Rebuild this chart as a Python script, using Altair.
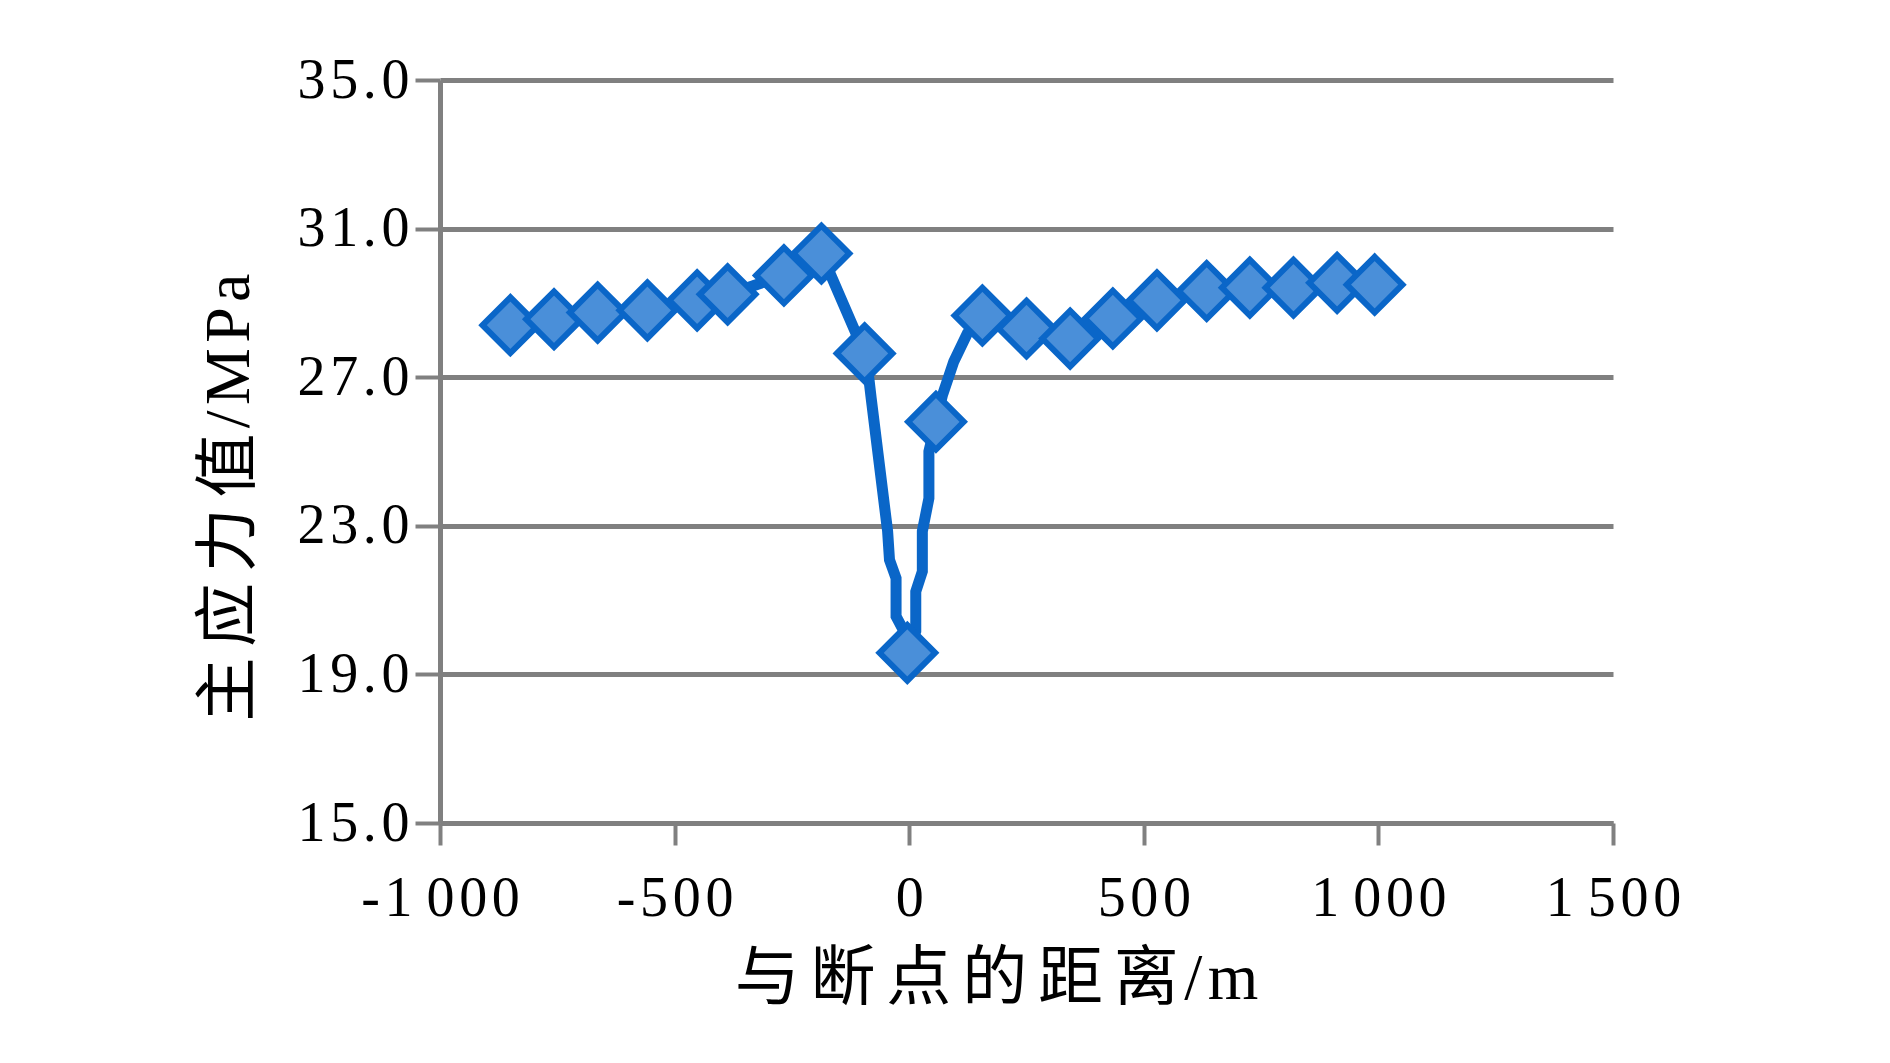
import altair as alt
import pandas as pd

# Marker points (distance from breakpoint, m ; principal stress, MPa)
marker_x = [-850, -757, -664, -558, -452, -387, -267, -187, -95, -4, 57, 156, 250, 343, 434, 528, 634, 726, 819, 912, 992]
marker_y = [28.40, 28.56, 28.74, 28.80, 29.07, 29.23, 29.74, 30.33, 27.64, 19.58, 25.80, 28.66, 28.31, 28.04, 28.58, 29.07, 29.32, 29.41, 29.41, 29.54, 29.49]

# Full polyline vertices (in drawing order)
path_x = [-850, -757, -664, -558, -452, -387, -267, -187, -95, -86, -81, -46, -42, -28, -28, -11, -4,
          14, 14, 28, 28, 42, 42, 57, 71, 95, 124, 156, 250, 343, 434, 528, 634, 726, 819, 912, 992]
path_y = [28.40, 28.56, 28.74, 28.80, 29.07, 29.23, 29.74, 30.33, 27.64, 26.97, 26.43, 22.85, 22.08, 21.59, 20.56, 20.16, 19.58,
          20.16, 21.23, 21.77, 22.85, 23.74, 25.00, 25.80, 26.52, 27.42, 28.18, 28.66, 28.31, 28.04, 28.58, 29.07, 29.32, 29.41, 29.41, 29.54, 29.49]

x_ticks = [-1000, -500, 0, 500, 1000, 1500]
x_tick_labels = ["-1 000", "-500", "0", "500", "1 000", "1 500"]
y_ticks = [15, 19, 23, 27, 31, 35]
y_tick_labels = ["15.0", "19.0", "23.0", "27.0", "31.0", "35.0"]

HAIR = "\u200a"
SIX = "\u2006"
x_title = SIX.join("与断点的距离") + HAIR + "/" + HAIR + "m"
y_title = SIX.join("主应力值") + HAIR + HAIR.join("/MPa")

markers = pd.DataFrame({"x": marker_x, "y": marker_y})
path = pd.DataFrame({"x": path_x, "y": path_y, "order": list(range(len(path_x)))})


def spaced(s):
    # letter-spaced label; the thousands gap stays a plain space
    out = ""
    for i, c in enumerate(s):
        if i > 0 and c != " " and s[i - 1] != " ":
            out += HAIR
        out += c
    return out


x_label_expr = "".join(f"datum.value == {v} ? '{spaced(l)}' : " for v, l in zip(x_ticks, x_tick_labels)) + "''"
y_label_expr = "".join(f"datum.value == {v} ? '{spaced(l)}' : " for v, l in zip(y_ticks, y_tick_labels)) + "''"

FONT = "Liberation Serif, Noto Sans CJK SC"
GRAY = "#808080"

x_enc = alt.X("x:Q", scale=alt.Scale(domain=[-1000, 1500], nice=False, zero=False),
              axis=alt.Axis(values=x_ticks, labelExpr=x_label_expr, title=x_title,
                            grid=False, domainColor=GRAY, domainWidth=5, tickColor=GRAY,
                            tickWidth=4, tickSize=22, labelFont=FONT, labelFontSize=56,
                            labelColor="black", labelPadding=26, titleFont=FONT, titleFontSize=65,
                            titleFontWeight="normal", titleColor="black", titleX=556, titleY=155,
                            titleBaseline="middle", titleAlign="center", labelFlush=False))
y_enc = alt.Y("y:Q", scale=alt.Scale(domain=[15, 35], nice=False, zero=False),
              axis=alt.Axis(values=y_ticks, labelExpr=y_label_expr, title=y_title,
                            grid=True, gridColor=GRAY, gridWidth=5, gridOpacity=1,
                            domainColor=GRAY, domainWidth=5, tickColor=GRAY, tickWidth=4,
                            tickSize=25, labelFont=FONT, labelFontSize=56, labelColor="black",
                            labelPadding=6, titleFont=FONT, titleFontSize=64, titleFontWeight="normal",
                            titleColor="black", titleX=-211, titleY=417, titleAngle=270,
                            titleBaseline="middle", titleAlign="center", labelFlush=False))

line = alt.Chart(path).mark_line(color="#0A66C8", strokeWidth=11, strokeJoin="miter").encode(
    x=x_enc, y=y_enc, order="order:Q")

points = alt.Chart(markers).mark_point(shape="diamond", filled=True, fill="#4A8FD9",
                                       stroke="#0A66C8", strokeWidth=6, size=3100, opacity=1).encode(
    x="x:Q", y="y:Q")

chart = alt.layer(line, points).properties(
    width=1173, height=743,
    autosize=alt.AutoSizeParams(type="none"),
    padding={"left": 432, "top": 72, "right": 250, "bottom": 220},
    background="white",
).configure_view(stroke=None)

chart.save("out.html", embed_options={"renderer": "svg", "actions": False})
